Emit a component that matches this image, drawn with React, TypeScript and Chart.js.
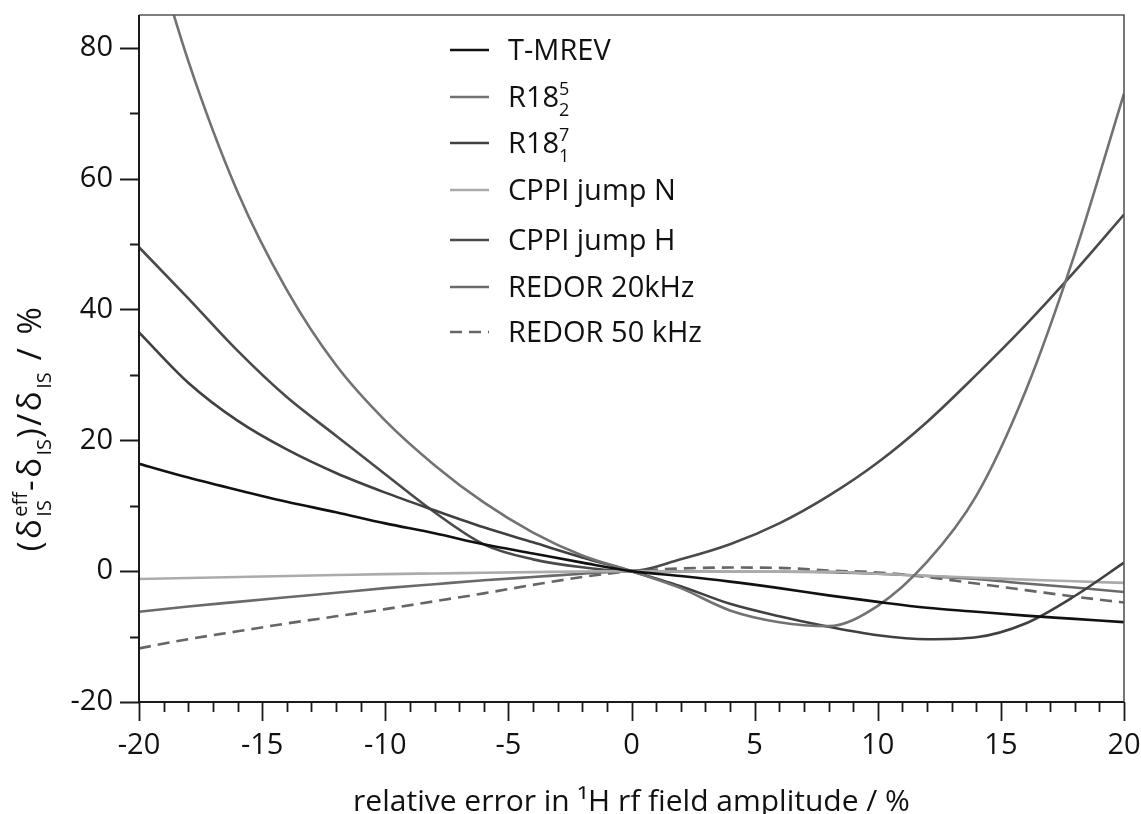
import React, { useEffect, useRef } from 'react';
import { Chart, registerables } from 'chart.js';
Chart.register(...registerables);

// ---- data ----
const xValues = [-20, -18, -16, -14, -12, -10, -8, -6, -4, -2, 0, 2, 4, 6, 8, 10, 12, 14, 16, 18, 20];
const tMrev = [16.4, 14.3, 12.4, 10.6, 9.0, 7.3, 5.8, 4.1, 2.7, 1.3, 0, -0.75, -1.6, -2.6, -3.7, -4.7, -5.6, -6.2, -6.8, -7.3, -7.8];
const r18_2_5 = [103, 78, 58, 43, 31.5, 23, 16.2, 10.5, 5.9, 2.4, 0, -2.6, -6.0, -7.8, -8.4, -5.3, 1.4, 11.5, 27.5, 48.5, 73];
const r18_1_7 = [36.5, 28.8, 23.0, 18.6, 15, 12, 9.3, 6.7, 4.4, 2.1, 0, -2.3, -5.0, -6.9, -8.5, -9.8, -10.4, -10.1, -8.0, -3.8, 1.3];
const cppiN = [-1.2, -1.05, -0.9, -0.75, -0.6, -0.45, -0.35, -0.25, -0.15, -0.05, 0, -0.05, -0.1, -0.1, -0.1, -0.4, -0.7, -1.0, -1.3, -1.55, -1.8];
const cppiH = [49.5, 41.7, 33.7, 26.6, 20.7, 14.8, 9.0, 4.1, 1.8, 0.6, 0, 1.8, 4.1, 7.3, 11.5, 16.6, 22.8, 30, 37.6, 45.8, 54.5];
const redor20 = [-6.2, -5.4, -4.7, -4.0, -3.3, -2.6, -2.0, -1.4, -0.9, -0.4, 0, -0.05, -0.1, -0.1, -0.15, -0.4, -0.75, -1.2, -1.9, -2.5, -3.2];
const redor50 = [-11.8, -10.4, -9.2, -8.0, -6.9, -5.8, -4.6, -3.4, -2.1, -0.9, 0, 0.4, 0.55, 0.5, 0.1, -0.2, -0.9, -1.9, -2.9, -3.9, -4.8];

const xTickLabels = [-20, -15, -10, -5, 0, 5, 10, 15, 20];
const yTickLabels = [-20, 0, 20, 40, 60, 80];
const yMinorTicks = [-10, 10, 30, 50, 70];

type LegendName = { base: string; sup?: string; sub?: string };
const seriesNames: LegendName[] = [
  { base: 'T-MREV' },
  { base: 'R18', sup: '5', sub: '2' },
  { base: 'R18', sup: '7', sub: '1' },
  { base: 'CPPI jump N' },
  { base: 'CPPI jump H' },
  { base: 'REDOR 20kHz' },
  { base: 'REDOR 50 kHz' },
];
const seriesValues = [tMrev, r18_2_5, r18_1_7, cppiN, cppiH, redor20, redor50];
const seriesColors = ['#111111', '#727272', '#404040', '#ababab', '#4a4a4a', '#6a6a6a', '#666666'];
const seriesDashed = [false, false, false, false, false, false, true];

const FONT = '"Open Sans", "DejaVu Sans", sans-serif';
const legendRows = [50, 97, 143, 190, 240, 287, 332];

function drawRich(ctx: CanvasRenderingContext2D, parts: any[], x: number, y: number, mainPx: number, smallPx: number, spacing: number, measureOnly = false) {
  let cx = x;
  for (const p of parts) {
    if (p.k === 'n') {
      ctx.font = `${mainPx}px ${FONT}`;
      (ctx as any).letterSpacing = `${spacing}px`;
      if (!measureOnly) ctx.fillText(p.t, cx, y);
      cx += ctx.measureText(p.t).width;
    } else {
      ctx.font = `${smallPx}px ${FONT}`;
      (ctx as any).letterSpacing = '0px';
      let w = 0;
      if (p.sup) {
        if (!measureOnly) ctx.fillText(p.sup, cx, y - mainPx * 0.42);
        w = Math.max(w, ctx.measureText(p.sup).width);
      }
      if (p.sub) {
        if (!measureOnly) ctx.fillText(p.sub, cx, y + mainPx * 0.3);
        w = Math.max(w, ctx.measureText(p.sub).width);
      }
      cx += w + 1;
    }
  }
  (ctx as any).letterSpacing = '0px';
  return cx - x;
}

const decorPlugin = {
  id: 'decor',
  afterDraw(chart: any) {
    const { ctx, chartArea: a, scales } = chart;
    const xs = scales.x, ys = scales.y;
    ctx.save();
    // frame top/right
    ctx.strokeStyle = '#555';
    ctx.lineWidth = 1.6;
    ctx.beginPath();
    ctx.moveTo(a.left, a.top);
    ctx.lineTo(a.right, a.top);
    ctx.lineTo(a.right, a.bottom);
    ctx.stroke();
    // left/bottom axes
    ctx.strokeStyle = '#1a1a1a';
    ctx.lineWidth = 2;
    ctx.beginPath();
    ctx.moveTo(a.left, a.top);
    ctx.lineTo(a.left, a.bottom);
    ctx.lineTo(a.right, a.bottom);
    ctx.stroke();
    // x ticks
    ctx.lineWidth = 1.8;
    ctx.beginPath();
    for (let v = -20; v <= 20; v++) {
      const px = Math.round(xs.getPixelForValue(v)) + 0.5;
      const len = v % 5 === 0 ? 19 : 10;
      ctx.moveTo(px, a.bottom);
      ctx.lineTo(px, a.bottom + len);
    }
    // y ticks
    for (const v of yTickLabels) {
      const py = Math.round(ys.getPixelForValue(v)) + 0.5;
      ctx.moveTo(a.left, py);
      ctx.lineTo(a.left - 19, py);
    }
    for (const v of yMinorTicks) {
      const py = Math.round(ys.getPixelForValue(v)) + 0.5;
      ctx.moveTo(a.left, py);
      ctx.lineTo(a.left - 9, py);
    }
    ctx.stroke();

    // legend
    ctx.textAlign = 'left';
    ctx.textBaseline = 'alphabetic';
    seriesNames.forEach((n, i) => {
      const yy = legendRows[i];
      ctx.strokeStyle = seriesColors[i];
      ctx.lineWidth = 2.6;
      ctx.setLineDash(seriesDashed[i] ? [12, 7] : []);
      ctx.beginPath();
      ctx.moveTo(450, yy);
      ctx.lineTo(489, yy);
      ctx.stroke();
      ctx.setLineDash([]);
      ctx.fillStyle = '#111';
      const parts: any[] = [{ t: n.base, k: 'n' }];
      if (n.sup || n.sub) parts.push({ t: '', k: 'both', sup: n.sup, sub: n.sub });
      drawRich(ctx, parts, 508, yy + 10, 29, 18, 0);
    });

    // x title
    ctx.fillStyle = '#111';
    ctx.font = `30px ${FONT}`;
    ctx.textAlign = 'center';
    ctx.fillText('relative error in ¹H rf field amplitude / %', (a.left + a.right) / 2, 811);
    ctx.textAlign = 'left';

    // y title
    const yParts: any[] = [
      { t: '(δ', k: 'n' },
      { t: '', k: 'both', sup: 'eff', sub: 'IS' },
      { t: '-δ', k: 'n' },
      { t: '', k: 'both', sub: 'IS' },
      { t: ')/δ', k: 'n' },
      { t: '', k: 'both', sub: 'IS' },
      { t: ' / %', k: 'n' },
    ];
    ctx.translate(31, 428);
    ctx.rotate(-Math.PI / 2);
    const w = drawRich(ctx, yParts, 0, 0, 33, 20, 2.5, true);
    drawRich(ctx, yParts, -w / 2, 10, 33, 20, 2.5);
    ctx.restore();
  },
};

export default function App() {
  const ref = useRef<HTMLCanvasElement | null>(null);
  useEffect(() => {
    if (!ref.current) return;
    const datasets = seriesValues.map((vals, i) => ({
      label: seriesNames[i].base + (seriesNames[i].sup ? seriesNames[i].sup : ''),
      data: vals.map((v, j) => ({ x: xValues[j], y: v })),
      borderColor: seriesColors[i],
      backgroundColor: seriesColors[i],
      borderWidth: 2.6,
      borderDash: seriesDashed[i] ? [12, 7] : [],
      pointRadius: 0,
      cubicInterpolationMode: 'monotone' as const,
      fill: false,
    }));
    const zeroPad = (s: any) => {
      s.paddingTop = 0;
      s.paddingBottom = 0;
      s.paddingLeft = 0;
      s.paddingRight = 0;
    };
    const chart = new Chart(ref.current, {
      type: 'line',
      data: { datasets },
      options: {
        animation: false,
        responsive: false,
        maintainAspectRatio: false,
        layout: { padding: { top: 15, right: 17, left: 0, bottom: 0 } },
        plugins: { legend: { display: false }, tooltip: { enabled: false } },
        scales: {
          x: {
            type: 'linear',
            min: -20,
            max: 20,
            grid: { display: false, drawTicks: false },
            border: { display: false },
            afterBuildTicks: (s: any) => { s.ticks = xTickLabels.map((v) => ({ value: v })); },
            afterFit: (s: any) => { s.height = 112; zeroPad(s); },
            ticks: { padding: 26, color: '#111', font: { family: FONT, size: 29 }, maxRotation: 0, autoSkip: false },
          },
          y: {
            type: 'linear',
            min: -20,
            max: 85,
            grid: { display: false, drawTicks: false },
            border: { display: false },
            afterBuildTicks: (s: any) => { s.ticks = yTickLabels.map((v) => ({ value: v })); },
            afterFit: (s: any) => { s.width = 139; zeroPad(s); },
            ticks: { padding: 26, color: '#111', font: { family: FONT, size: 29 } },
          },
        },
      },
      plugins: [decorPlugin],
    });
    return () => chart.destroy();
  }, []);
  return (
    <div style={{ position: 'fixed', left: 0, top: 0, width: 1141, height: 814, background: '#fff' }}>
      <canvas ref={ref} width={1141} height={814} style={{ width: 1141, height: 814, display: 'block' }} />
    </div>
  );
}
